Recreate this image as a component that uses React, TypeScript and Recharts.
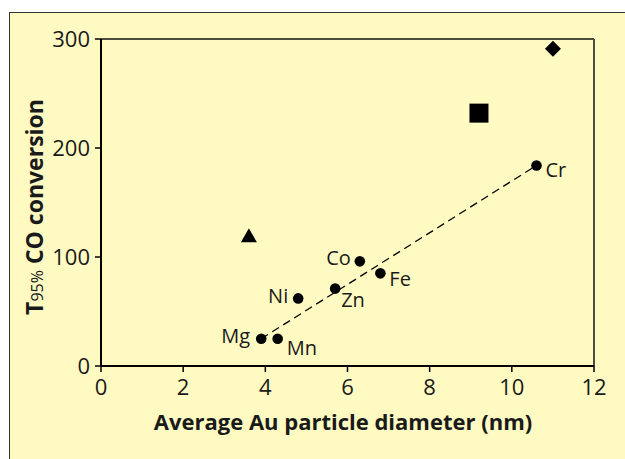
import React from 'react';
import { ScatterChart, Scatter, XAxis, YAxis, ReferenceLine } from 'recharts';

const metals = ['Mg', 'Mn', 'Ni', 'Zn', 'Co', 'Fe', 'Cr'];
const diameters = [3.9, 4.3, 4.8, 5.7, 6.3, 6.8, 10.6];
const t95 = [25, 25, 62, 71, 96, 85, 184];

const triangleX = [3.6];
const triangleY = [119];
const squareX = [9.2];
const squareY = [232];
const diamondX = [11.0];
const diamondY = [291];

const trendX = [3.9, 10.6];
const trendY = [25, 184];

const xTicks = [0, 2, 4, 6, 8, 10, 12];
const yTicks = [0, 100, 200, 300];

const circleData = metals.map((m, i) => ({ name: m, x: diameters[i], y: t95[i] }));
const triData = triangleX.map((x, i) => ({ x, y: triangleY[i] }));
const sqData = squareX.map((x, i) => ({ x, y: squareY[i] }));
const diaData = diamondX.map((x, i) => ({ x, y: diamondY[i] }));
const trendData = trendX.map((x, i) => ({ x, y: trendY[i] }));

const labelPlacement: Record<string, { dx: number; dy: number; anchor: 'start' | 'end' }> = {
  Cr: { dx: 9, dy: 4, anchor: 'start' },
  Fe: { dx: 9, dy: 5, anchor: 'start' },
  Zn: { dx: 6, dy: 11, anchor: 'start' },
  Co: { dx: -9, dy: -4, anchor: 'end' },
  Ni: { dx: -10, dy: -3, anchor: 'end' },
  Mg: { dx: -11, dy: -3, anchor: 'end' },
  Mn: { dx: 9, dy: 9, anchor: 'start' },
};

const FONT = "'Open Sans', sans-serif";
const TEXT = '#1a1a1a';

const CircleShape = (props: any) => {
  const { cx, cy, payload } = props;
  const p = labelPlacement[payload.name];
  return (
    <g>
      <circle cx={cx} cy={cy} r={5.3} fill="#000" />
      <text
        x={cx + p.dx}
        y={cy + p.dy}
        dy="0.36em"
        textAnchor={p.anchor}
        fontSize={20}
        fontFamily={FONT}
        fill={TEXT}
      >
        {payload.name}
      </text>
    </g>
  );
};

const TriangleShape = (props: any) => {
  const { cx, cy } = props;
  return <polygon points={`${cx},${cy - 8} ${cx + 8},${cy + 6} ${cx - 8},${cy + 6}`} fill="#000" />;
};

const SquareShape = (props: any) => {
  const { cx, cy } = props;
  return <rect x={cx - 9.5} y={cy - 9.5} width={19} height={19} fill="#000" />;
};

const DiamondShape = (props: any) => {
  const { cx, cy } = props;
  return <polygon points={`${cx},${cy - 8} ${cx + 8},${cy} ${cx},${cy + 8} ${cx - 8},${cy}`} fill="#000" />;
};

const EmptyShape = () => <g />;

const XTitle = () => (
  <text x={343} y={422} dy="0.36em" textAnchor="middle" fontSize={22} fontWeight={700} fontFamily={FONT} fill={TEXT}>
    Average Au particle diameter (nm)
  </text>
);

const YTitle = () => (
  <text
    x={0}
    y={0}
    transform="translate(43,207) rotate(-90)"
    textAnchor="middle"
    fontSize={23}
    fontWeight={700}
    fontFamily={FONT}
    fill={TEXT}
  >
    T<tspan fontSize={16} fontWeight={400}>95%</tspan> CO conversion
  </text>
);

export default function App() {
  return (
    <div style={{ position: 'absolute', left: 0, top: 0, width: 625, height: 459, overflow: 'hidden', background: '#fff' }}>
      <div
        style={{
          position: 'absolute',
          left: 9,
          top: 12,
          width: 640,
          height: 460,
          background: '#FFFAC2',
          borderLeft: '1px solid #333',
          borderTop: '1px solid #333',
        }}
      />
      <div style={{ position: 'absolute', left: 0, top: 0 }}>
        <ScatterChart width={625} height={459} margin={{ top: 39, right: 31, bottom: 0, left: 41 }}>
          <XAxis
            type="number"
            dataKey="x"
            domain={[0, 12]}
            ticks={xTicks}
            interval={0}
            allowDataOverflow
            height={93}
            axisLine={{ stroke: '#000', strokeWidth: 2 }}
            tickLine={{ stroke: '#000', strokeWidth: 1.5 }}
            tickSize={6}
            tickMargin={7}
            tick={{ fontSize: 22, fontFamily: FONT, fill: TEXT }}
            label={{ content: <XTitle /> }}
          />
          <YAxis
            type="number"
            dataKey="y"
            domain={[0, 300]}
            ticks={yTicks}
            interval={0}
            allowDataOverflow
            width={60}
            axisLine={{ stroke: '#000', strokeWidth: 2 }}
            tickLine={{ stroke: '#000', strokeWidth: 1.5 }}
            tickSize={6}
            tickMargin={5}
            tick={{ fontSize: 22, fontFamily: FONT, fill: TEXT }}
            label={{ content: <YTitle /> }}
          />
          <ReferenceLine y={300} stroke="#4d4d3d" strokeWidth={2} />
          <ReferenceLine x={12} stroke="#4d4d3d" strokeWidth={2} />
          <Scatter
            data={trendData}
            line={{ stroke: '#000', strokeWidth: 1.3, strokeDasharray: '8 5' }}
            shape={EmptyShape}
            isAnimationActive={false}
          />
          <Scatter data={circleData} shape={CircleShape} isAnimationActive={false} />
          <Scatter data={triData} shape={TriangleShape} isAnimationActive={false} />
          <Scatter data={sqData} shape={SquareShape} isAnimationActive={false} />
          <Scatter data={diaData} shape={DiamondShape} isAnimationActive={false} />
        </ScatterChart>
      </div>
    </div>
  );
}
